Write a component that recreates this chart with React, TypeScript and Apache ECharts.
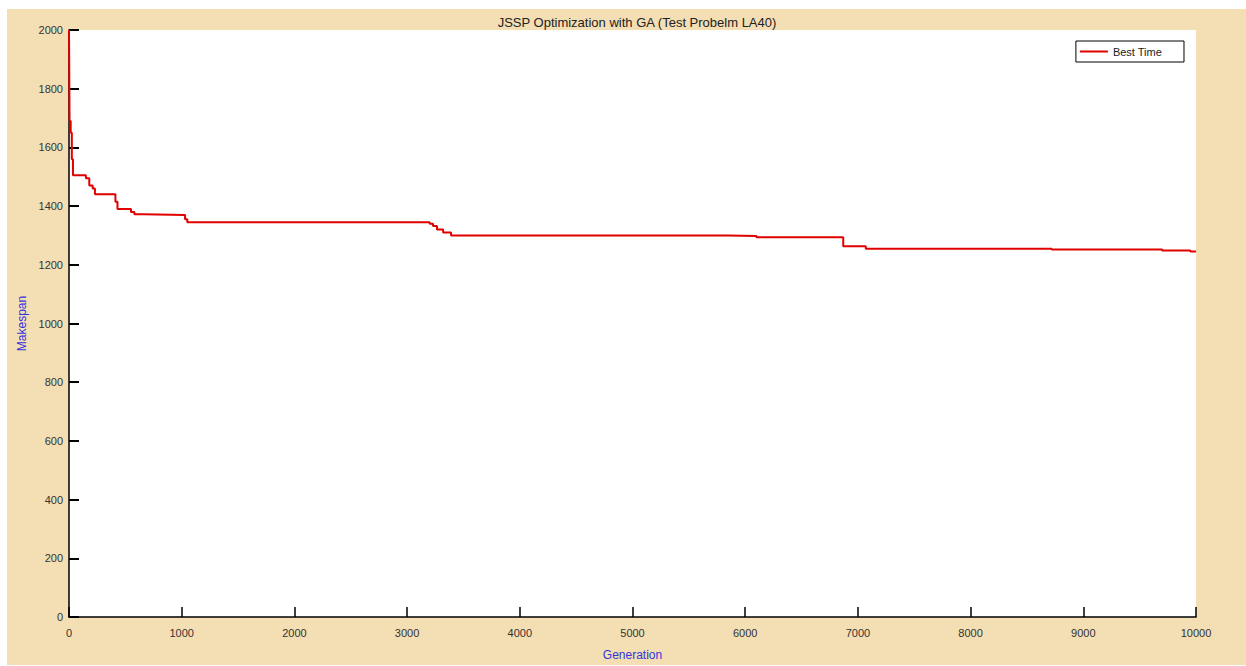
import React, { useEffect, useRef } from "react";
import * as echarts from "echarts";

const titleText = "JSSP Optimization with GA (Test Probelm LA40)";
const xAxisName = "Generation";
const yAxisName = "Makespan";
const seriesName = "Best Time";

// Generation at which best makespan changes, and the new value from that generation on
const generations = [
  0, 5, 15, 25, 35, 150, 180, 210, 230, 412, 430, 550, 580, 660, 1030, 1050,
  3200, 3230, 3265, 3320, 3390, 5850, 6100, 6870, 7070, 8720, 9700, 9950, 10000,
];
const bestTimes = [
  2000, 1690, 1650, 1560, 1505, 1495, 1470, 1460, 1440, 1415, 1390, 1380, 1372, 1370, 1355, 1345,
  1340, 1332, 1320, 1310, 1300, 1298, 1294, 1263, 1255, 1252, 1249, 1245, 1245,
];

const xTicks = [0, 1000, 2000, 3000, 4000, 5000, 6000, 7000, 8000, 9000, 10000];
const yTicks = [0, 200, 400, 600, 800, 1000, 1200, 1400, 1600, 1800, 2000];

export default function App() {
  const ref = useRef<HTMLDivElement>(null);

  useEffect(() => {
    document.body.style.margin = "0";
    if (!ref.current) return;
    const chart = echarts.init(ref.current, null, { renderer: "svg" });
    const data = generations.map((g, i) => [g, bestTimes[i]]);
    chart.setOption({
      animation: false,
      backgroundColor: "transparent",
      textStyle: { fontFamily: "Liberation Sans, Arial, sans-serif" },
      title: {
        text: titleText,
        left: 632,
        textAlign: "center",
        top: 11,
        textStyle: { fontSize: 13, fontWeight: "normal", color: "#222" },
      },
      legend: {
        right: 62,
        top: 41,
        orient: "horizontal",
        backgroundColor: "#fff",
        borderColor: "#000",
        borderWidth: 1,
        padding: [5, 22, 5, 4],
        itemWidth: 28,
        itemHeight: 2,
        itemGap: 5,
        icon: "rect",
        textStyle: { fontSize: 11, color: "#222" },
        data: [{ name: seriesName, icon: "rect" }],
      },
      grid: {
        left: 69,
        right: 50,
        top: 30,
        bottom: 42,
        show: true,
        backgroundColor: "#fff",
        borderWidth: 0,
      },
      xAxis: {
        type: "value",
        min: xTicks[0],
        max: xTicks[xTicks.length - 1],
        interval: 1000,
        name: xAxisName,
        nameLocation: "middle",
        nameGap: 32,
        nameTextStyle: { color: "#3333dd", fontSize: 12 },
        axisLine: { show: true, lineStyle: { color: "#000", width: 1.5 } },
        axisTick: { show: true, inside: true, length: 10, lineStyle: { color: "#000", width: 1.5 } },
        axisLabel: { color: "#333", fontSize: 11, margin: 10, formatter: (v: number) => String(v) },
        splitLine: { show: false },
      },
      yAxis: {
        type: "value",
        min: yTicks[0],
        max: yTicks[yTicks.length - 1],
        interval: 200,
        name: yAxisName,
        nameLocation: "middle",
        nameGap: 35,
        nameTextStyle: { color: "#3333dd", fontSize: 12 },
        axisLine: { show: true, lineStyle: { color: "#000", width: 1.5 } },
        axisTick: { show: true, inside: true, length: 10, lineStyle: { color: "#000", width: 2 } },
        axisLabel: { color: "#333", fontSize: 11, margin: 6, formatter: (v: number) => String(v) },
        splitLine: { show: false },
      },
      series: [
        {
          name: seriesName,
          type: "line",
          step: "end",
          data,
          showSymbol: false,
          symbol: "none",
          lineStyle: { color: "#e00000", width: 2 },
          itemStyle: { color: "#e00000" },
          z: 3,
        },
      ],
    });
    return () => chart.dispose();
  }, []);

  return (
    <div style={{ position: "relative", width: 1246, height: 666, background: "#fff", overflow: "hidden" }}>
      <div
        style={{
          position: "absolute",
          left: 7,
          top: 9,
          width: 1239,
          height: 656,
          background: "#F4DEB4",
        }}
      />
      <div ref={ref} style={{ position: "absolute", left: 0, top: 0, width: 1246, height: 666 }} />
    </div>
  );
}
